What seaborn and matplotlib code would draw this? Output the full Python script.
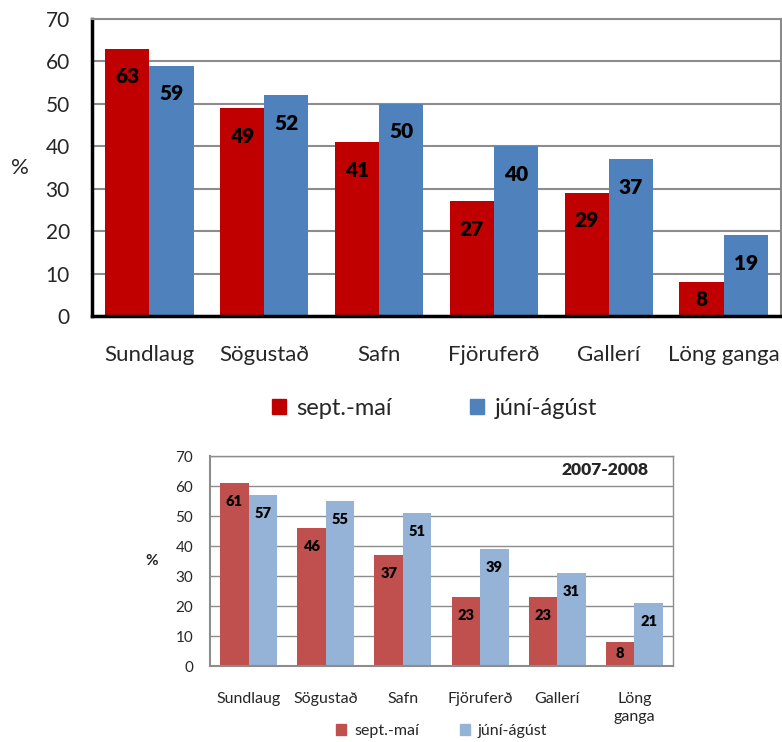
import numpy as np
import pandas as pd
import matplotlib
matplotlib.use("Agg")
import matplotlib.pyplot as plt
import seaborn as sns

categories_top = ["Sundlaug", "Sögustað", "Safn", "Fjöruferð", "Gallerí", "Löng ganga"]
categories_bottom = ["Sundlaug", "Sögustað", "Safn", "Fjöruferð", "Gallerí", "Löng\nganga"]
series_names = ["sept.-maí", "júní-ágúst"]
top_sept_mai = [63, 49, 41, 27, 29, 8]
top_juni_agust = [59, 52, 50, 40, 37, 19]
bottom_sept_mai = [61, 46, 37, 23, 23, 8]
bottom_juni_agust = [57, 55, 51, 39, 31, 21]
y_ticks = [0, 10, 20, 30, 40, 50, 60, 70]
bottom_title = "2007-2008"

sns.set_style("white")
plt.rcParams["font.family"] = ["Lato", "DejaVu Sans"]

fig = plt.figure(figsize=(7.82, 7.42), dpi=100)


def make_df(cats, a, b):
    return pd.DataFrame({
        "cat": cats * 2,
        "serie": [series_names[0]] * len(cats) + [series_names[1]] * len(cats),
        "val": a + b,
    })


def draw(ax, cats, a, b, colors, width, axcolor, axlw, gridlw, tick_fs, tick_pad,
         cat_fs, val_fs, offset, pct_kw, cat_pad):
    df = make_df(cats, a, b)
    sns.barplot(data=df, x="cat", y="val", hue="serie", palette=colors, ax=ax,
                width=width, gap=0, saturation=1, edgecolor="none", legend=False)
    ax.set_ylim(0, 70)
    ax.set_xlim(-0.5, len(cats) - 0.5)
    ax.set_yticks(y_ticks)
    ax.set_yticklabels([str(t) for t in y_ticks], fontsize=tick_fs)
    ax.set_xticks(np.arange(-0.5, len(cats), 1.0))
    ax.set_xticklabels([])
    ax.set_xticks(np.arange(len(cats)), minor=True)
    ax.set_xticklabels(cats, minor=True, fontsize=cat_fs, linespacing=1.35)
    ax.tick_params(axis="x", which="minor", length=0, pad=cat_pad)
    ax.tick_params(axis="x", which="major", length=6, width=axlw * 0.7, color=axcolor, direction="out")
    ax.tick_params(axis="y", length=6, width=axlw * 0.7, color=axcolor, direction="out", pad=tick_pad)
    ax.yaxis.grid(True, color="#8c8c8c", linewidth=gridlw)
    ax.set_axisbelow(True)
    for s in ["left", "bottom"]:
        ax.spines[s].set_color(axcolor)
        ax.spines[s].set_linewidth(axlw)
    for s in ["top", "right"]:
        ax.spines[s].set_color("#8c8c8c")
        ax.spines[s].set_linewidth(gridlw)
        ax.spines[s].set_visible(True)
    ax.set_xlabel("")
    ax.set_ylabel("")
    for cont in ax.containers:
        for rect in cont:
            h = rect.get_height()
            x = rect.get_x() + rect.get_width() / 2
            y = h - min(offset, h / 2)
            ax.text(x, y, f"{h:.0f}", ha="center", va="center", fontsize=val_fs,
                    fontweight="heavy", color="black")
    ax.text(**pct_kw, transform=ax.transAxes)


# Top chart
ax1 = fig.add_axes([92 / 782, 1 - 316 / 742, (781 - 92) / 782, (316 - 19) / 742])
draw(ax1, categories_top, top_sept_mai, top_juni_agust, ["#C00000", "#4F81BD"],
     0.77, "black", 2.5, 1.5, 15, 10, 16, 15, 6.6,
     dict(x=-0.105, y=0.5, s="%", fontsize=16, ha="center", va="center"), 21)
leg1 = ax1.legend(handles=[plt.Rectangle((0, 0), 1, 1, color="#C00000"),
                           plt.Rectangle((0, 0), 1, 1, color="#4F81BD")],
                  labels=series_names, loc="center", bbox_to_anchor=(0.497, -0.31),
                  ncol=2, frameon=False, fontsize=17, handlelength=0.6,
                  handleheight=0.6, handletextpad=0.45, columnspacing=3.3)

# Bottom chart
ax2 = fig.add_axes([210 / 782, 1 - 666 / 742, (673 - 210) / 782, (666 - 456) / 742])
draw(ax2, categories_bottom, bottom_sept_mai, bottom_juni_agust, ["#C0504D", "#95B3D7"],
     0.74, "#8c8c8c", 1.5, 1.0, 11, 6, 11.5, 10.5, 6.3,
     dict(x=-0.125, y=0.5, s="%", fontsize=11, ha="center", va="center", fontweight="bold"), 19)
for lbl in ax2.get_xticklabels(minor=True):
    lbl.set_verticalalignment("top")
ax2.text(0.853, 0.935, bottom_title, transform=ax2.transAxes, ha="center", va="center",
         fontsize=12.5, fontweight="heavy")
leg2 = ax2.legend(handles=[plt.Rectangle((0, 0), 1, 1, color="#C0504D"),
                           plt.Rectangle((0, 0), 1, 1, color="#95B3D7")],
                  labels=series_names, loc="center", bbox_to_anchor=(0.5, -0.31),
                  ncol=2, frameon=False, fontsize=11.5, handlelength=0.65,
                  handleheight=0.65, handletextpad=0.5, columnspacing=2.55)

fig.savefig("out.png", dpi=100)
